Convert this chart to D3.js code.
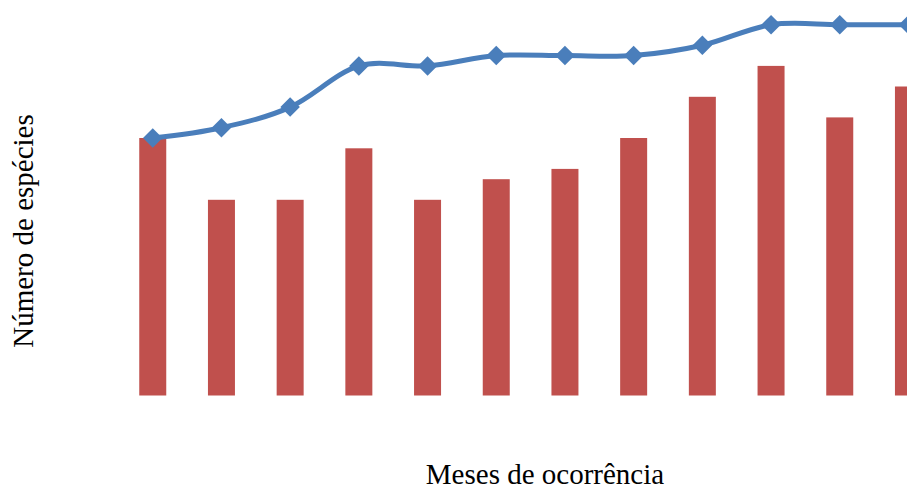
<!DOCTYPE html>
<html>
<head>
<meta charset="utf-8">
<script src="https://cdn.jsdelivr.net/npm/d3@7"></script>
<style>
  html, body { margin: 0; padding: 0; background: #fff; overflow: hidden; }
  svg { display: block; }
  text { font-family: "Liberation Serif", "Times New Roman", serif; fill: #000; }
</style>
</head>
<body>
<script>
// Months of the year
const meses = ["Jan", "Fev", "Mar", "Abr", "Mai", "Jun", "Jul", "Ago", "Set", "Out", "Nov", "Dez"];
// Species recorded in each month
const especiesMes = [25, 19, 19, 24, 19, 21, 22, 25, 29, 32, 27, 30];
// Accumulated number of species
const especiesAcumuladas = [25, 26, 28, 32, 32, 33, 33, 33, 34, 36, 36, 36];

const yTitle = "Número de espécies";
const xTitle = "Meses de ocorrência";

const W = 907, H = 491;
const svg = d3.select("body").append("svg").attr("width", W).attr("height", H);

// Plot area runs past the right edge of the page
const x = d3.scaleBand()
  .domain(meses)
  .range([118.4, 942.8])
  .paddingInner(0.607)
  .paddingOuter(0.3035);

const y = d3.scaleLinear()
  .domain([0, 38])
  .range([395.5, 395.5 - 38 * 10.3]);

// Monthly bars
svg.append("g")
  .selectAll("rect")
  .data(especiesMes)
  .join("rect")
  .attr("x", (d, i) => x(meses[i]))
  .attr("y", d => y(d))
  .attr("width", x.bandwidth())
  .attr("height", d => y(0) - y(d))
  .attr("fill", "#c0504d");

// Smoothed accumulation line
const cx = i => x(meses[i]) + x.bandwidth() / 2;
const line = d3.line()
  .x((d, i) => cx(i))
  .y(d => y(d))
  .curve(d3.curveCatmullRom.alpha(0));

svg.append("path")
  .datum(especiesAcumuladas)
  .attr("d", line)
  .attr("fill", "none")
  .attr("stroke", "#4a7ebb")
  .attr("stroke-width", 5)
  .attr("stroke-linejoin", "round");

// Diamond markers
const diamond = d3.symbol().type(d3.symbolSquare).size(190);
svg.append("g")
  .selectAll("path")
  .data(especiesAcumuladas)
  .join("path")
  .attr("d", diamond)
  .attr("transform", (d, i) => `translate(${cx(i)},${y(d)}) rotate(45)`)
  .attr("fill", "#4a7ebb");

// Axis titles
svg.append("text")
  .attr("transform", "translate(33,231) rotate(-90)")
  .attr("text-anchor", "middle")
  .style("font-size", "29px")
  .text(yTitle);

svg.append("text")
  .attr("x", 545)
  .attr("y", 484)
  .attr("text-anchor", "middle")
  .style("font-size", "29px")
  .text(xTitle);
</script>
</body>
</html>
